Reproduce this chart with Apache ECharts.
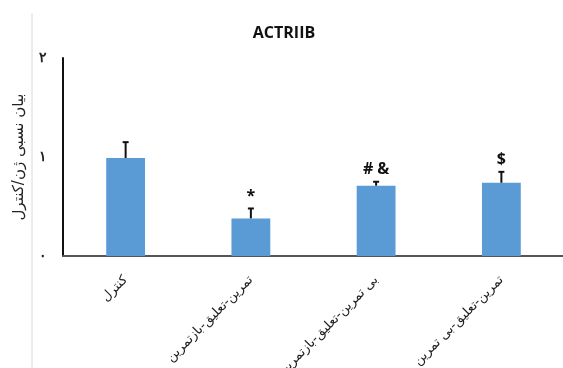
<!DOCTYPE html>
<html>
<head>
<meta charset="utf-8">
<script src="https://cdn.jsdelivr.net/npm/echarts@6/dist/echarts.min.js"></script>
<style>
  html, body { margin: 0; padding: 0; background: #fff; }
  #chart { width: 563px; height: 368px; }
</style>
</head>
<body>
<div id="chart"></div>
<script>
// Groups, mean relative expression, upper error and significance marks
const categories = ['کنترل', 'تمرین-تعلیق-بازتمرین', 'بی تمرین-تعلیق-بازتمرین', 'تمرین-تعلیق-بی تمرین'];
const means = [0.99, 0.38, 0.71, 0.74];
const errors = [0.16, 0.10, 0.04, 0.11];
const marks = ['', '*', '# &', '$'];
const yTickLabels = { 0: '۰', 1: '۱', 2: '۲' };

const chart = echarts.init(document.getElementById('chart'));

chart.setOption({
  animation: false,
  title: {
    text: 'ACTRIIB',
    left: 279,
    top: 20,
    textAlign: 'center',
    textStyle: { fontFamily: 'Open Sans', fontWeight: 'bold', fontSize: 16, color: '#111' }
  },
  grid: { left: 63, top: 58, bottom: 112, width: 501, containLabel: false, outerBoundsMode: 'none' },
  xAxis: {
    type: 'category',
    data: categories,
    axisLine: { lineStyle: { color: '#555', width: 2 } },
    axisTick: { show: false },
    axisLabel: {
      rotate: 45,
      interval: 0,
      margin: 22,
      fontSize: 13,
      color: '#222',
      fontFamily: 'DejaVu Sans'
    }
  },
  yAxis: {
    type: 'value',
    min: 0,
    max: 2,
    interval: 1,
    name: 'بیان نسبی ژن/کنترل',
    nameLocation: 'middle',
    nameRotate: 90,
    nameGap: 36,
    nameTextStyle: { fontSize: 15, color: '#222', fontFamily: 'DejaVu Sans' },
    axisLine: { show: true, lineStyle: { color: '#111', width: 2 } },
    axisTick: { show: false },
    splitLine: { show: false },
    axisLabel: {
      margin: 16,
      fontSize: 14,
      fontWeight: 'bold',
      color: '#222',
      formatter: v => yTickLabels[v] ?? ''
    }
  },
  graphic: [{
    type: 'line',
    shape: { x1: 32, y1: 13, x2: 32, y2: 368 },
    style: { stroke: '#dadada', lineWidth: 1 }
  }],
  series: [
    {
      type: 'bar',
      data: means,
      barWidth: '31%',
      itemStyle: { color: '#5b9bd5' },
      z: 2
    },
    {
      type: 'custom',
      z: 3,
      data: means.map((m, i) => [i, m, m + errors[i], marks[i]]),
      renderItem: function (params, api) {
        const x = api.value(0);
        const base = api.coord([x, api.value(1)]);
        const top = api.coord([x, api.value(2)]);
        const children = [
          { type: 'line', shape: { x1: base[0], y1: base[1], x2: top[0], y2: top[1] },
            style: { stroke: '#111', lineWidth: 2 } },
          { type: 'line', shape: { x1: top[0] - 3, y1: top[1], x2: top[0] + 3, y2: top[1] },
            style: { stroke: '#111', lineWidth: 2 } }
        ];
        const mark = marks[params.dataIndex];
        if (mark) {
          children.push({
            type: 'text',
            style: {
              text: mark,
              x: top[0],
              y: top[1] - 4,
              align: 'center',
              verticalAlign: 'bottom',
              fontSize: 16,
              fontWeight: 'bold',
              fontFamily: 'Open Sans',
              fill: '#111'
            }
          });
        }
        return { type: 'group', children: children };
      }
    }
  ]
});
</script>
</body>
</html>
